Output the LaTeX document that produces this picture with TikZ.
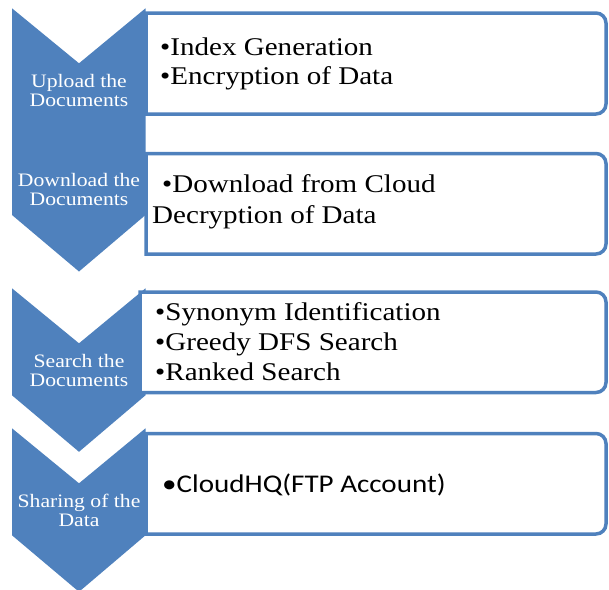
\documentclass[tikz,border=0pt]{standalone}
\usepackage{fontspec}
\setmainfont[FakeStretch=1.14]{Liberation Serif}
\newfontfamily\calfont[FakeStretch=1.14]{Carlito}
\definecolor{chevblue}{HTML}{4F81BD}

% chevron: #1 = top edge (distance from the top of the picture)
\newcommand\drawchevron[1]{%
  \fill[chevron] (12,-#1) -- (79,-#1-55) -- (145.5,-#1) -- (145.5,-#1-107)
    -- (79,-#1-163.5) -- (12,-#1-107) -- cycle;}
% list box, rounded on the right: #1 = left, #2 = top, #3 = bottom
\newcommand\drawitembox[3]{%
  \draw[itembox] (#1,-#3) -- (#1,-#2) -- (596,-#2)
    arc[start angle=90, end angle=0, radius=10] -- (606,-#3+10)
    arc[start angle=0, end angle=-90, radius=10] -- cycle;}

\begin{document}
\begin{tikzpicture}[x=1pt,y=1pt,
  chevron/.style={fill=chevblue},
  itembox/.style={draw=chevblue, line width=3.5pt, fill=white},
  chevtext/.style={text=white, font=\fontsize{19}{19}\selectfont, anchor=base, inner sep=0pt},
  itemtext/.style={text=black, font=\fontsize{25.5}{30}\selectfont, anchor=base west, inner sep=0pt}]

\useasboundingbox (0,0) rectangle (609,-589);

% chevrons
\drawchevron{108}
\drawchevron{8.3}
\drawchevron{428.3}
\drawchevron{288.3}

% list boxes
\drawitembox{146}{13}{114}
\drawitembox{146}{153.5}{254}
\drawitembox{140}{292}{392.5}
\drawitembox{146}{433.5}{534}

% step labels
\node[chevtext] (up1) at (79,-87) {Upload the};
\node[chevtext] (up2) at (79,-106) {Documents};
\node[chevtext] (dl1) at (79,-186) {Download the};
\node[chevtext] (dl2) at (79,-205) {Documents};
\node[chevtext] (se1) at (79,-367) {Search the};
\node[chevtext] (se2) at (79,-386) {Documents};
\node[chevtext] (sh1) at (79,-507) {Sharing of the};
\node[chevtext] (sh2) at (79,-526) {Data};

% list items
\node[itemtext] (a1) at (160,-55) {•Index Generation};
\node[itemtext] (a2) at (160,-84) {•Encryption of Data};
\node[itemtext] (b1) at (162,-192) {•Download from Cloud};
\node[itemtext] (b2) at (152,-223) {Decryption of Data};
\node[itemtext] (c1) at (155,-320) {•Synonym Identification};
\node[itemtext] (c2) at (155,-350) {•Greedy DFS Search};
\node[itemtext] (c3) at (155,-380) {•Ranked Search};
\node[itemtext, font=\calfont\fontsize{25.5}{30}\selectfont] (d1) at (162,-492) {•CloudHQ(FTP Account)};
\end{tikzpicture}
\end{document}
